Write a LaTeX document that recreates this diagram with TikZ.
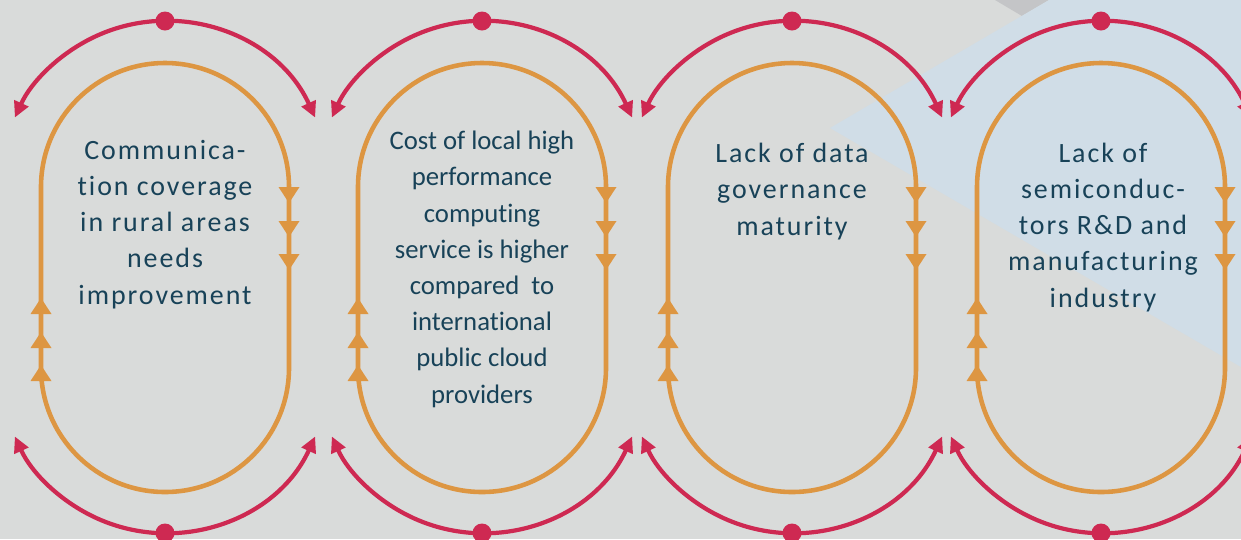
\documentclass[tikz,border=0pt]{standalone}
\usepackage{fontspec}
\setmainfont{Carlito}[Ligatures=NoCommon]
\newfontfamily\widefont[LetterSpace=7,Ligatures=NoCommon]{Carlito}
\usetikzlibrary{arrows.meta,calc}
\definecolor{bggrey}{RGB}{217,219,218}
\definecolor{bgblue}{RGB}{208,221,231}
\definecolor{bgdark}{RGB}{196,197,199}
\definecolor{myred}{RGB}{206,41,82}
\definecolor{myorange}{RGB}{221,150,66}
\definecolor{mytext}{RGB}{24,66,88}

\begin{document}
\begin{tikzpicture}[x=0.02cm,y=0.02cm,
  loopline/.style={myorange,line width=2.6pt},
  redarc/.style={myred,line width=2.4pt,
    {Triangle[length=9pt,width=8.5pt]}-{Triangle[length=9pt,width=8.5pt]}},
  reddot/.style={circle,fill=myred,inner sep=0pt,minimum size=0.38cm},
  issue/.style={text=mytext,align=center,inner sep=0pt,anchor=base,
    font=\fontsize{15.9}{20.6}\selectfont\widefont}
]
\useasboundingbox (0,0) rectangle (1241,-539);

% the background
\fill[bggrey] (0,0) rectangle (1241,-539);
\fill[bgdark] (995,0) -- (1022,-16) -- (1049,0) -- cycle;
\fill[bgblue] (830,-128) -- (1049,0) -- (1241,0) -- (1241,-367) -- cycle;

% the loops, with their arrows
\foreach \i/\cx in {1/165,2/482,3/792,4/1101} {
  \coordinate (ct\i) at (\cx,-186);
  \coordinate (cb\i) at (\cx,-368);
  \draw[loopline] (\cx-124,-187) arc (180:0:124) -- (\cx+124,-368)
    arc (0:-180:124) -- cycle;
  \foreach \ty in {203,237,270}
    \fill[myorange] (\cx+124,-\ty) -- ++(-10.5,16) -- ++(21,0) -- cycle;
  \foreach \ty in {298,332,365}
    \fill[myorange] (\cx-124,-\ty) -- ++(-10.5,-16) -- ++(21,0) -- cycle;
}

% the red arcs
\foreach \i in {1,...,4} {
  \path (ct\i) ++(24.5:165) coordinate (ra\i);
  \path (cb\i) ++(-24.5:165) coordinate (rb\i);
  \draw[redarc] (ra\i) arc (24.5:155.5:165);
  \draw[redarc] (rb\i) arc (-24.5:-155.5:165);
  \node[reddot] (dt\i) at ($(ct\i)+(0,165)$) {};
  \node[reddot] (db\i) at ($(cb\i)+(0,-165)$) {};
}

% the texts (anchored at the last line)
\node[issue] (t1) at (165,-304) {Communica-\\tion coverage\\in rural areas\\needs\\improvement};
\node[issue,font=\fontsize{15.2}{20.6}\selectfont] (t2) at (482,-403)
  {Cost of local high\\performance\\computing\\service is higher\\compared~ to\\international\\public cloud\\providers};
\node[issue] (t3) at (792,-235) {Lack of data\\governance\\maturity};
\node[issue] (t4) at (1103,-307) {Lack of\\semiconduc-\\tors R\&D and\\manufacturing\\industry};
\end{tikzpicture}
\end{document}
